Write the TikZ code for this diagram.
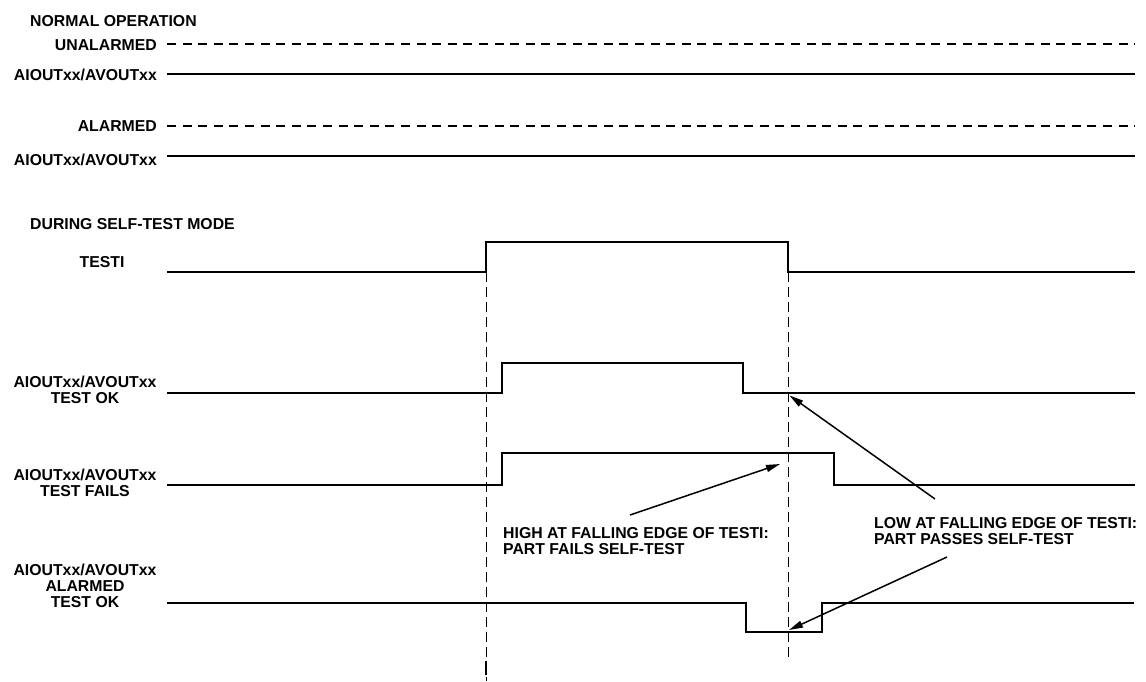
\documentclass[tikz,border=0pt]{standalone}
\usepackage{fontspec}
\setmainfont{Liberation Sans}
\usetikzlibrary{arrows.meta}
\begin{document}
\begin{tikzpicture}[x=1pt,y=-1pt,
  lbl/.style={inner sep=0pt,font=\fontsize{15.8}{15.8}\selectfont\bfseries},
  sig/.style={line width=2.4pt,line join=miter},
  dsig/.style={line width=2.4pt,dash pattern=on 9pt off 6.6pt},
  guide/.style={line width=1pt,dash pattern=on 10pt off 5pt},
  note/.style={line width=1.5pt,-{Triangle[length=14pt,width=7pt]}}]
\useasboundingbox (0,0) rectangle (1146,681);
% ---- headings and labels
\node[lbl,anchor=base west] (normal) at (30,26) {NORMAL OPERATION};
\node[lbl,anchor=base east] (unal) at (157,50) {UNALARMED};
\node[lbl,anchor=base east] (out1) at (157,80) {AIOUTxx/AVOUTxx};
\node[lbl,anchor=base east] (alar) at (157,131) {ALARMED};
\node[lbl,anchor=base east] (out2) at (157,165) {AIOUTxx/AVOUTxx};
\node[lbl,anchor=base west] (during) at (30,229) {DURING SELF-TEST MODE};
\node[lbl,anchor=base] (testi) at (102,267) {TESTI};
\node[lbl,align=center] (ok) at (85,389.5) {AIOUTxx/AVOUTxx\\TEST OK};
\node[lbl,align=center] (fails) at (85,482.5) {AIOUTxx/AVOUTxx\\TEST FAILS};
\node[lbl,align=center] (alok) at (85,586) {AIOUTxx/AVOUTxx\\ALARMED\\TEST OK};
\node[lbl,align=left,anchor=north west] (high) at (503,527) {HIGH AT FALLING EDGE OF TESTI:\\PART FAILS SELF-TEST};
\node[lbl,align=left,anchor=north west] (low) at (874,517) {LOW AT FALLING EDGE OF TESTI:\\PART PASSES SELF-TEST};
% ---- normal operation lines
\draw[dsig] (167,44) -- (1135,44);
\draw[sig] (167,74) -- (1135,74);
\draw[dsig] (167,126) -- (1135,126);
\draw[sig] (167,156) -- (1135,156);
% ---- guide lines
\draw[guide] (486,272) -- (486,681);
\draw[line width=2.2pt] (486,661) -- (486,675);
\draw[guide] (788,272) -- (788,661);
% ---- waveforms
\draw[sig] (167,272) -- (486,272) -- (486,242) -- (788,242) -- (788,272) -- (1135,272);
\draw[sig] (167,393) -- (502,393) -- (502,363) -- (743,363) -- (743,393) -- (1135,393);
\draw[sig] (167,485) -- (502,485) -- (502,453) -- (834,453) -- (834,485) -- (1135,485);
\draw[sig] (167,603) -- (746,603) -- (746,632) -- (822,632) -- (822,603) -- (1134,603);
% ---- annotation arrows
\coordinate (h0) at (630,515);
\coordinate (h1) at (780,464);
\coordinate (l0) at (935,499);
\coordinate (l1) at (789.5,395.5);
\coordinate (m0) at (947,557);
\coordinate (m1) at (789,630);
\draw[note] (h0) -- (h1);
\draw[note] (l0) -- (l1);
\draw[note] (m0) -- (m1);
\end{tikzpicture}
\end{document}
